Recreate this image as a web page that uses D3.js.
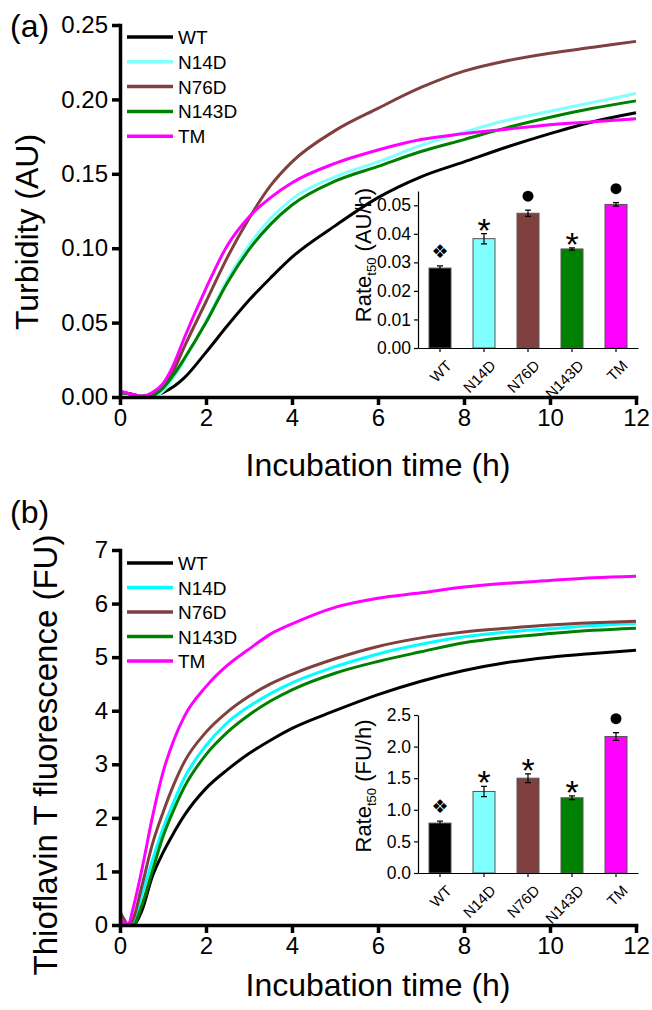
<!DOCTYPE html>
<html><head><meta charset="utf-8">
<script src="https://cdn.jsdelivr.net/npm/d3@7"></script>
<style>
body{margin:0;background:#fff}
svg{display:block;font-family:"Liberation Sans",Arial,sans-serif}
</style></head><body>
<svg id="canvas" width="652" height="1010"></svg>
<script>
// names + colours
let names = ["WT", "N14D", "N76D", "N143D", "TM"]
let colorsA = ["#000000", "#80ffff", "#804040", "#008000", "#ff00ff"]
let colorsB = ["#000000", "#00ffff", "#804040", "#008000", "#ff00ff"]
let barColors = ["#000000", "#80ffff", "#804040", "#008000", "#ff00ff"]

// (a) turbidity curves
let timesA = [0, 0.25, 0.5, 0.75, 1, 1.25, 1.5, 2, 2.5, 3, 3.5, 4, 5, 6, 7, 8, 9, 10, 11, 12]
let turbWT    = [0.003, 0.002, 0.0005, 0.001, 0.003, 0.007, 0.013, 0.030, 0.048, 0.065, 0.080, 0.094, 0.115, 0.134, 0.148, 0.158, 0.168, 0.177, 0.185, 0.191]
let turbN14D  = [0.003, 0.002, 0.0005, 0.000, 0.004, 0.013, 0.025, 0.051, 0.079, 0.102, 0.120, 0.133, 0.148, 0.158, 0.169, 0.178, 0.186, 0.192, 0.198, 0.204]
let turbN76D  = [0.003, 0.002, 0.0005, 0.002, 0.006, 0.018, 0.034, 0.064, 0.094, 0.120, 0.142, 0.158, 0.179, 0.194, 0.208, 0.219, 0.226, 0.231, 0.235, 0.239]
let turbN143D = [0.003, 0.002, 0.0005, 0.001, 0.006, 0.015, 0.026, 0.050, 0.077, 0.099, 0.116, 0.129, 0.145, 0.155, 0.165, 0.173, 0.181, 0.188, 0.194, 0.199]
let turbTM    = [0.004, 0.002, 0.0005, 0.003, 0.009, 0.022, 0.040, 0.073, 0.102, 0.121, 0.134, 0.144, 0.157, 0.166, 0.173, 0.177, 0.180, 0.183, 0.185, 0.187]

// (b) ThT fluorescence curves
let timesB = [0, 0.1, 0.2, 0.3, 0.5, 0.75, 1, 1.25, 1.5, 2, 2.5, 3, 3.5, 4, 5, 6, 7, 8, 9, 10, 11, 12]
let thtWT    = [0.0, 0.0, 0.0, 0.0, 0.25, 0.9, 1.35, 1.72, 2.05, 2.55, 2.9, 3.2, 3.45, 3.67, 4.0, 4.3, 4.55, 4.75, 4.9, 5.0, 5.07, 5.13]
let thtN14D  = [0.05, 0.02, 0.0, 0.05, 0.55, 1.2, 1.8, 2.3, 2.75, 3.35, 3.78, 4.08, 4.32, 4.52, 4.82, 5.06, 5.24, 5.38, 5.47, 5.53, 5.59, 5.63]
let thtN76D  = [0.25, 0.1, 0.0, 0.1, 0.7, 1.5, 2.1, 2.62, 3.05, 3.6, 3.98, 4.27, 4.5, 4.68, 4.97, 5.2, 5.36, 5.47, 5.54, 5.6, 5.64, 5.67]
let thtN143D = [0.0, 0.0, 0.0, 0.0, 0.35, 1.0, 1.65, 2.15, 2.58, 3.18, 3.6, 3.92, 4.18, 4.39, 4.7, 4.92, 5.1, 5.27, 5.37, 5.44, 5.5, 5.54]
let thtTM    = [0.1, 0.05, 0.02, 0.3, 1.0, 2.0, 2.85, 3.45, 3.9, 4.45, 4.85, 5.15, 5.43, 5.62, 5.93, 6.1, 6.2, 6.31, 6.38, 6.43, 6.48, 6.51]

// inset bars: rate at t50
let rateA = [0.0280, 0.0383, 0.0472, 0.0347, 0.0503]
let errA  = [0.0008, 0.0018, 0.0011, 0.0004, 0.0006]
let sigA  = ["❖", "*", "●", "*", "●"]
let rateB = [0.79, 1.29, 1.50, 1.19, 2.16]
let errB  = [0.03, 0.08, 0.07, 0.03, 0.06]
let sigB  = ["❖", "*", "*", "*", "●"]

let xTicks = [0, 2, 4, 6, 8, 10, 12]
let yTicksA = [0, 0.05, 0.10, 0.15, 0.20, 0.25]
let yTicksB = [0, 1, 2, 3, 4, 5, 6, 7]
let insetTicksA = [0, 0.01, 0.02, 0.03, 0.04, 0.05]
let insetTicksB = [0, 0.5, 1.0, 1.5, 2.0, 2.5]

let canvas = d3.select("#canvas")

let drawPanel = (p) => {
    let g = canvas.append("g")
    let x = d3.scaleLinear().domain([0, 12]).range([120, 636])
    let y = d3.scaleLinear().domain(p.yDomain).range(p.yRange)

    // curves
    let line = d3.line().x(d => x(d[0])).y(d => y(d[1])).curve(d3.curveMonotoneX)
    p.series.forEach((vals, i) => {
        g.append("path")
            .attr("d", line(p.times.map((t, j) => [t, vals[j]])))
            .attr("fill", "none")
            .attr("stroke", p.colors[i])
            .attr("stroke-width", 3)
    })

    // axes
    let xAxis = g.append("g")
        .attr("transform", `translate(0,${p.yRange[0]})`)
        .call(d3.axisBottom(x).tickValues(xTicks).tickSize(8).tickSizeOuter(0).tickPadding(4))
    let yAxis = g.append("g")
        .attr("transform", "translate(120,0)")
        .call(d3.axisLeft(y).tickValues(p.yTicks).tickFormat(d3.format(p.fmt)).tickSize(8).tickSizeOuter(0).tickPadding(4))
    ;[xAxis, yAxis].forEach(a => {
        a.select(".domain").attr("stroke-width", 3.5).attr("stroke-linecap", "square")
        a.selectAll(".tick line").attr("stroke-width", 3.5)
        a.selectAll(".tick text").attr("font-size", 24).attr("fill", "#000")
            .style("font-family", "Liberation Sans, Arial, sans-serif")
    })

    // titles
    g.append("text").attr("x", 378).attr("y", p.xTitleY)
        .attr("text-anchor", "middle").attr("font-size", 32).text("Incubation time (h)")
    g.append("text").attr("transform", `translate(${p.yTitleX},${p.yTitleY}) rotate(-90)`)
        .attr("text-anchor", "middle").attr("font-size", p.yTitleSize).text(p.yTitle)
    g.append("text").attr("x", 10).attr("y", p.tagY).attr("font-size", 32).text(p.tag)

    // legend
    let leg = g.append("g")
    names.forEach((n, i) => {
        let ly = p.legY + i * p.legStep
        leg.append("line").attr("x1", 127).attr("x2", 173).attr("y1", ly).attr("y2", ly)
            .attr("stroke", p.colors[i]).attr("stroke-width", 3.5)
        leg.append("text").attr("x", 178).attr("y", ly + 7).attr("font-size", 19).text(n)
    })

    // inset bar chart
    let bx = d3.scaleBand().domain(names).range([418, 638]).paddingInner(0.5).paddingOuter(0.25)
    let by = d3.scaleLinear().domain(p.inDomain).range(p.inRange)
    let ig = g.append("g")
    ig.selectAll("rect").data(p.rates).join("rect")
        .attr("x", (d, i) => bx(names[i]))
        .attr("width", bx.bandwidth())
        .attr("y", d => by(d))
        .attr("height", d => by(0) - by(d))
        .attr("fill", (d, i) => barColors[i])
        .attr("stroke", "#555").attr("stroke-width", 1)
    p.rates.forEach((r, i) => {
        let cx = bx(names[i]) + bx.bandwidth() / 2
        let e = p.errs[i]
        ig.append("path")
            .attr("d", `M${cx},${by(r - e)}V${by(r + e)}M${cx - 3},${by(r - e)}H${cx + 3}M${cx - 3},${by(r + e)}H${cx + 3}`)
            .attr("stroke", "#000").attr("stroke-width", 1.2).attr("fill", "none")
        let top = by(r + e)
        let s = p.sigs[i]
        if (s === "●") {
            ig.append("circle").attr("cx", cx).attr("cy", top - 14).attr("r", 5.5).attr("fill", "#000")
        } else if (s === "*") {
            ig.append("text").attr("x", cx).attr("y", top + 8).attr("text-anchor", "middle")
                .attr("font-size", 34).text("*")
        } else {
            ig.append("text").attr("x", cx).attr("y", top - 8).attr("text-anchor", "middle")
                .attr("font-size", 19).style("font-family", "DejaVu Sans").text(s)
        }
    })
    let iy = ig.append("g").attr("transform", "translate(418,0)")
        .call(d3.axisLeft(by).tickValues(p.inTicks).tickFormat(d3.format(p.inFmt)).tickSize(4).tickSizeOuter(0).tickPadding(3))
    let ix = ig.append("g").attr("transform", `translate(0,${p.inRange[0]})`)
        .call(d3.axisBottom(bx).tickSize(4).tickSizeOuter(0).tickPadding(3))
    ;[ix, iy].forEach(a => {
        a.select(".domain").attr("stroke-width", 1.2)
        a.selectAll(".tick line").attr("stroke-width", 1.2)
        a.selectAll(".tick text").attr("fill", "#000").style("font-family", "Liberation Sans, Arial, sans-serif")
    })
    iy.selectAll(".tick text").attr("font-size", 17.5)
    ix.selectAll(".tick text").attr("font-size", 15)
        .attr("text-anchor", "end").attr("dy", "0.35em")
        .attr("transform", "translate(4,10) rotate(-45)")
    let it = ig.append("text").attr("transform", `translate(${p.inTitleX},${p.inTitleY}) rotate(-90)`)
        .attr("text-anchor", "middle").attr("font-size", 22)
    it.append("tspan").text("Rate")
    it.append("tspan").attr("font-size", 13).attr("dy", 5).text("t50")
    it.append("tspan").attr("dy", -5).text(" " + p.inUnit)
}

drawPanel({
    times: timesA, series: [turbWT, turbN14D, turbN76D, turbN143D, turbTM], colors: colorsA,
    yDomain: [0, 0.25], yRange: [397, 25], yTicks: yTicksA, fmt: ".2f",
    xTitleY: 476, yTitle: "Turbidity (AU)", yTitleSize: 32, yTitleX: 38, yTitleY: 232, tag: "(a)", tagY: 37,
    legY: 37, legStep: 24.8,
    rates: rateA, errs: errA, sigs: sigA,
    inDomain: [0, 0.055], inRange: [348, 191], inTicks: insetTicksA, inFmt: ".2f",
    inTitleX: 371, inTitleY: 255, inUnit: "(AU/h)"
})

drawPanel({
    times: timesB, series: [thtWT, thtN14D, thtN76D, thtN143D, thtTM], colors: colorsB,
    yDomain: [0, 7], yRange: [925, 550], yTicks: yTicksB, fmt: "d",
    xTitleY: 996, yTitle: "Thioflavin T fluorescence (FU)", yTitleSize: 33, yTitleX: 57, yTitleY: 755, tag: "(b)", tagY: 523,
    legY: 563, legStep: 24.5,
    rates: rateB, errs: errB, sigs: sigB,
    inDomain: [0, 2.5], inRange: [873, 715], inTicks: insetTicksB, inFmt: ".1f",
    inTitleX: 371, inTitleY: 786, inUnit: "(FU/h)"
})
</script>
</body></html>
